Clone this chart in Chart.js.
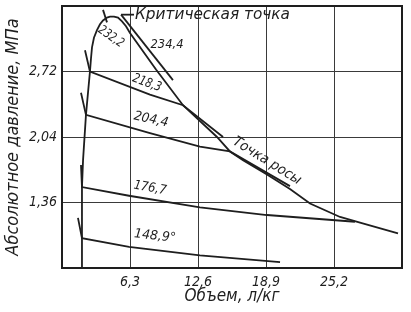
<!DOCTYPE html>
<html>
<head>
<meta charset="utf-8">
<script src="https://cdn.jsdelivr.net/npm/chart.js@4/dist/chart.umd.min.js"></script>
<style>
html,body{margin:0;padding:0;background:#fff;}
#wrap{width:411px;height:312px;}
</style>
</head>
<body>
<div id="wrap"><canvas id="c" width="411" height="312"></canvas></div>
<script>
// Axis ticks
const xTicks = [0, 6.3, 12.6, 18.9, 25.2, 31.5];
const xTickLabels = ['', '6,3', '12,6', '18,9', '25,2', ''];
const yTicks = [0.68, 1.36, 2.04, 2.72, 3.40];
const yTickLabels = ['', '1,36', '2,04', '2,72', ''];

// Saturation dome (bubble + dew curve), volume l/kg vs pressure MPa
const domeV = [1.85,1.85,1.85,1.95,2.22,2.59,2.69,2.78,2.96,3.24,3.52,3.80,4.17,4.45,4.82,5.19,5.56,5.93,6.30,8.71,11.21,14.36,15.56,16.77,18.99,21.12,22.98,25.76,27.61,31.13];
const domeP = [0.68,0.99,1.52,1.80,2.27,2.72,2.86,2.97,3.07,3.15,3.21,3.25,3.28,3.29,3.29,3.28,3.24,3.19,3.12,2.74,2.37,2.04,1.89,1.80,1.65,1.50,1.35,1.21,1.15,1.04];

// Isotherms
const iso148V = [1.48,1.85,6.21,12.78,20.20];
const iso148P = [1.20,0.99,0.90,0.81,0.74];
const iso176V = [1.76,1.85,6.21,12.78,18.99,27.14];
const iso176P = [1.75,1.52,1.43,1.31,1.23,1.16];
const iso204V = [1.76,2.22,8.15,12.78,15.56,21.12];
const iso204P = [2.50,2.27,2.08,1.94,1.89,1.53];
const iso218V = [2.13,2.59,8.15,11.21,14.92];
const iso218P = [2.94,2.72,2.48,2.37,2.04];
const iso232V = [3.80,4.17];
const iso232P = [3.36,3.23];
const iso234V = [5.47,10.28];
const iso234P = [3.31,2.63];
const critLeaderV = [5.47,6.67];
const critLeaderP = [3.31,3.31];

// Text labels
const labelText = ['Критическая точка','234,4','232,2','218,3','204,4','176,7','148,9°','Точка росы'];
const labelV = [6.76,9.73,4.54,7.87,8.25,8.15,8.62,18.99];
const labelP = [3.31,3.00,3.08,2.60,2.22,1.51,1.01,1.79];

// label styles (not data)
const labelStyle = [
  {angle:0, w:155, size:15, align:'left'},
  {angle:0, w:33, size:13, align:'center'},
  {angle:35, w:28, size:13, align:'center'},
  {angle:20, w:30, size:13, align:'center'},
  {angle:12, w:35, size:13, align:'center'},
  {angle:10, w:33, size:13, align:'center'},
  {angle:6, w:42, size:13, align:'center'},
  {angle:32, w:78, size:14, align:'center'}
];

const FONT_FAMILY = '"Liberation Sans Narrow","DejaVu Sans Condensed","Liberation Sans",sans-serif';
const INK = '#1e1e1e';

function pts(vs, ps){ return vs.map((v,i)=>({x:v, y:ps[i]})); }
function line(vs, ps, tension){
  return {data: pts(vs,ps), showLine:true, borderColor:INK, borderWidth:1.8, pointRadius:0, tension: tension||0, fill:false};
}

const textPlugin = {
  id:'textLabels',
  afterDatasetsDraw(chart){
    const ctx = chart.ctx, xs = chart.scales.x, ys = chart.scales.y;
    labelText.forEach((t,i)=>{
      const st = labelStyle[i];
      const px = xs.getPixelForValue(labelV[i]);
      const py = ys.getPixelForValue(labelP[i]);
      ctx.save();
      ctx.font = 'italic ' + st.size + 'px ' + FONT_FAMILY;
      ctx.fillStyle = INK;
      ctx.textBaseline = 'middle';
      ctx.textAlign = 'left';
      ctx.translate(px, py);
      ctx.rotate(st.angle*Math.PI/180);
      const m = ctx.measureText(t).width;
      const s = st.w / m;
      ctx.scale(s, 1);
      ctx.fillText(t, st.align === 'left' ? 0 : -m/2, 0);
      ctx.restore();
    });
  }
};

const framePlugin = {
  id:'frame',
  afterDraw(chart){
    const a = chart.chartArea, ctx = chart.ctx;
    ctx.save();
    ctx.strokeStyle = INK;
    ctx.lineWidth = 2;
    ctx.strokeRect(a.left, a.top, a.right-a.left, a.bottom-a.top);
    ctx.restore();
  }
};

new Chart(document.getElementById('c'), {
  type:'scatter',
  data:{ datasets:[
    line(domeV, domeP),
    line(iso148V, iso148P),
    line(iso176V, iso176P),
    line(iso204V, iso204P),
    line(iso218V, iso218P),
    line(iso232V, iso232P),
    line(iso234V, iso234P),
    line(critLeaderV, critLeaderP)
  ]},
  options:{
    responsive:false,
    animation:false,
    events:[],
    layout:{padding:{top:6, right:9, left:0, bottom:0}},
    plugins:{legend:{display:false}, tooltip:{enabled:false}},
    scales:{
      x:{
        type:'linear', min:0, max:31.5,
        afterBuildTicks(s){ s.ticks = xTicks.map(v=>({value:v})); },
        afterFit(s){ s.height = 44; s.paddingLeft = 0; s.paddingRight = 0; },
        ticks:{ padding:6, maxRotation:0, autoSkip:false,
          callback:(v,i)=> xTickLabels[i],
          color:INK, font:{family:FONT_FAMILY, size:14, style:'italic'} },
        grid:{ color:'#3a3a3a', lineWidth:1, drawTicks:false },
        border:{ display:true, color:INK, width:2 },
        title:{ display:true, text:'Объем, л/кг', color:INK, padding:{top:0,bottom:5},
          font:{family:FONT_FAMILY, size:17, style:'italic'} }
      },
      y:{
        type:'linear', min:0.68, max:3.40,
        afterBuildTicks(s){ s.ticks = yTicks.map(v=>({value:v})); },
        afterFit(s){ s.width = 62; s.paddingTop = 0; s.paddingBottom = 0; },
        ticks:{ padding:5, autoSkip:false,
          callback:(v,i)=> yTickLabels[i],
          color:INK, font:{family:FONT_FAMILY, size:14, style:'italic'} },
        grid:{ color:'#3a3a3a', lineWidth:1, drawTicks:false },
        border:{ display:true, color:INK, width:2 },
        title:{ display:true, text:'Абсолютное давление, МПа', color:INK, padding:{top:3,bottom:0},
          font:{family:FONT_FAMILY, size:18, style:'italic'} }
      }
    }
  },
  plugins:[textPlugin, framePlugin]
});
</script>
</body>
</html>
